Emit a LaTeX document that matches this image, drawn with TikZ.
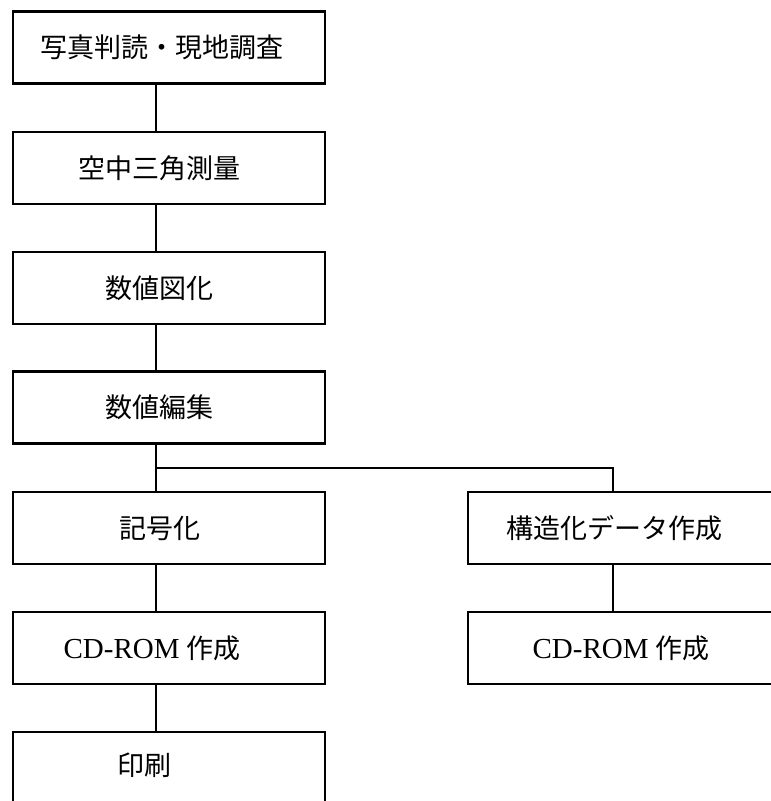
\documentclass[tikz,border=0pt]{standalone}
\usepackage{fontspec}
\setmainfont{Liberation Serif}
\newfontfamily\jp{Noto Sans CJK JP}
\newcommand{\cdrom}{{\fontsize{29}{32}\selectfont CD-ROM} {\jp 作成}}
\begin{document}
\begin{tikzpicture}[x=1pt,y=1pt,
  box/.style={draw=black, line width=2.2pt, minimum width=312pt, minimum height=72pt, inner sep=0pt},
  lbl/.style={font=\fontsize{27}{32}\selectfont, inner sep=0pt},
  conn/.style={draw=black, line width=2.2pt}]
\useasboundingbox (0,0) rectangle (771,-801);
\begin{scope}
\clip (0,0) rectangle (771,-801);
% left column
\node[box, label={[lbl,xshift=-7pt]center:{\jp 写真判読・現地調査}}] (b1) at (169,-47.5) {};
\node[box, label={[lbl,xshift=-10pt]center:{\jp 空中三角測量}}] (b2) at (169,-168) {};
\node[box, label={[lbl,xshift=-10pt]center:{\jp 数値図化}}] (b3) at (169,-288) {};
\node[box, label={[lbl,xshift=-10pt]center:{\jp 数値編集}}] (b4) at (169,-407.5) {};
\node[box, label={[lbl,xshift=-9pt]center:{\jp 記号化}}] (b5) at (169,-528) {};
\node[box, label={[lbl,xshift=-17pt]center:{\cdrom}}] (b6) at (169,-648) {};
\node[box, label={[lbl,xshift=-25pt,yshift=3pt]center:{\jp 印刷}}] (b7) at (169,-768) {};
% right column
\node[box, label={[lbl,xshift=-10pt]center:{\jp 構造化データ作成}}] (r1) at (624,-528) {};
\node[box, label={[lbl,xshift=-3pt]center:{\cdrom}}] (r2) at (624,-648) {};
% connector guides
\coordinate (spine) at (156,0);
\coordinate (rspine) at (613,0);
\coordinate (fork) at (156,-468);
\coordinate (rfork) at (613,-468);
% connectors
\draw[conn] (b1.south -| spine) -- (b2.north -| spine);
\draw[conn] (b2.south -| spine) -- (b3.north -| spine);
\draw[conn] (b3.south -| spine) -- (b4.north -| spine);
\draw[conn] (b4.south -| spine) -- (b5.north -| spine);
\draw[conn] (fork) -- (rfork) -- (r1.north -| rspine);
\draw[conn] (b5.south -| spine) -- (b6.north -| spine);
\draw[conn] (b6.south -| spine) -- (b7.north -| spine);
\draw[conn] (r1.south -| rspine) -- (r2.north -| rspine);
\end{scope}
\end{tikzpicture}
\end{document}
